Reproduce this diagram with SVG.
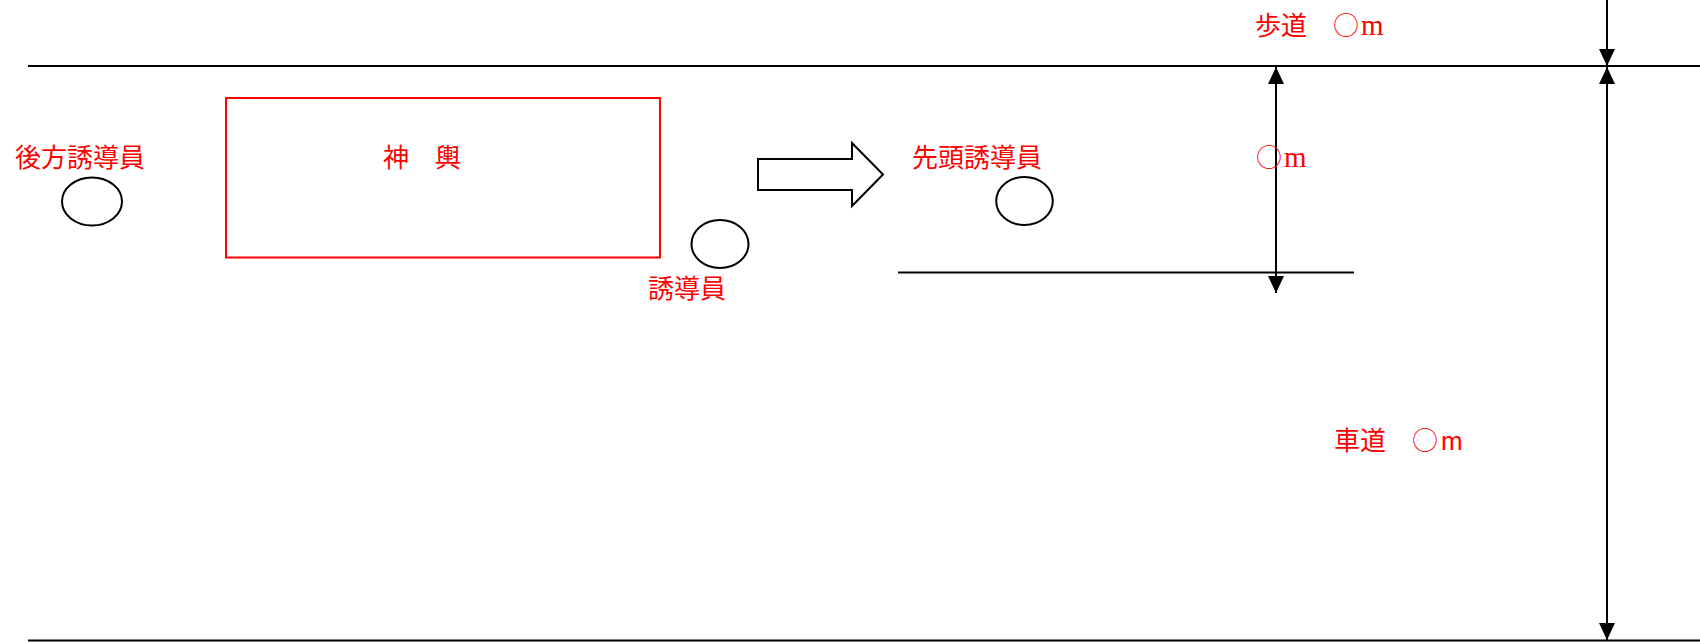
<svg xmlns="http://www.w3.org/2000/svg" width="1700" height="642" viewBox="0 0 1700 642">
<style>
.ln{stroke:#000;stroke-width:2;fill:none}
.dim{stroke:#000;stroke-width:2;fill:none;marker-end:url(#ah)}
.dim2{stroke:#000;stroke-width:2;fill:none;marker-start:url(#ah);marker-end:url(#ah)}
.person{fill:#fff;stroke:#000;stroke-width:2}
.lbl{fill:#ff0000;font-size:26px;font-family:"Noto Sans CJK JP","Liberation Sans",sans-serif}
.ser{fill:#ff0000;font-size:26px;font-family:"Liberation Serif","Noto Sans CJK JP",serif}
.san{fill:#ff0000;font-size:26px;font-family:"Liberation Sans","Noto Sans CJK JP",sans-serif}
.circ{font-family:"Noto Sans CJK JP",sans-serif;font-weight:300}
.bigm{font-size:29px}
</style>
<defs>
<marker id="ah" markerUnits="userSpaceOnUse" markerWidth="18" markerHeight="18" refX="17" refY="9" orient="auto-start-reverse" viewBox="0 0 18 18">
<path d="M0,1 L17,9 L0,17 z" fill="#000"/>
</marker>
</defs>
<rect width="1700" height="642" fill="#fff"/>
<g id="connectors">
<line class="ln" x1="28" y1="66" x2="1700" y2="66"/>
<line class="ln" x1="28" y1="640.5" x2="1700" y2="640.5"/>
<line class="ln" x1="898" y1="272.5" x2="1354" y2="272.5"/>
<line class="dim" x1="1607" y1="0" x2="1607" y2="66"/>
<line class="dim2" x1="1607" y1="67" x2="1607" y2="640"/>
<line class="dim2" x1="1276" y1="67" x2="1276" y2="293"/>
</g>
<g id="mikoshi">
<rect x="226" y="98" width="434" height="159.5" fill="none" stroke="#ff0000" stroke-width="2"/>
<text class="lbl" x="383" y="167">神　輿</text>
</g>
<g id="rear-guide">
<text class="lbl" x="15" y="167">後方誘導員</text>
<ellipse class="person" cx="92" cy="201.5" rx="30" ry="24"/>
</g>
<g id="guide">
<ellipse class="person" cx="720" cy="244" rx="28.5" ry="24"/>
<text class="lbl" x="648" y="298">誘導員</text>
</g>
<g id="direction-arrow">
<polygon points="758,159 852,159 852,143 883,174.5 852,206 852,190 758,190" fill="#fff" stroke="#000" stroke-width="2"/>
</g>
<g id="lead-guide">
<text class="lbl" x="912" y="167">先頭誘導員</text>
<ellipse class="person" cx="1024.5" cy="201" rx="28.3" ry="24"/>
</g>
<g id="labels">
<text class="ser" x="1255" y="35">歩道　<tspan class="circ">○</tspan><tspan class="bigm" dx="2">m</tspan></text>
<text class="ser" x="1256" y="167"><tspan class="circ">○</tspan><tspan class="bigm" dx="2">m</tspan></text>
<text class="san" x="1334" y="450">車道　<tspan class="circ">○</tspan><tspan dx="3">m</tspan></text>
</g>
</svg>
